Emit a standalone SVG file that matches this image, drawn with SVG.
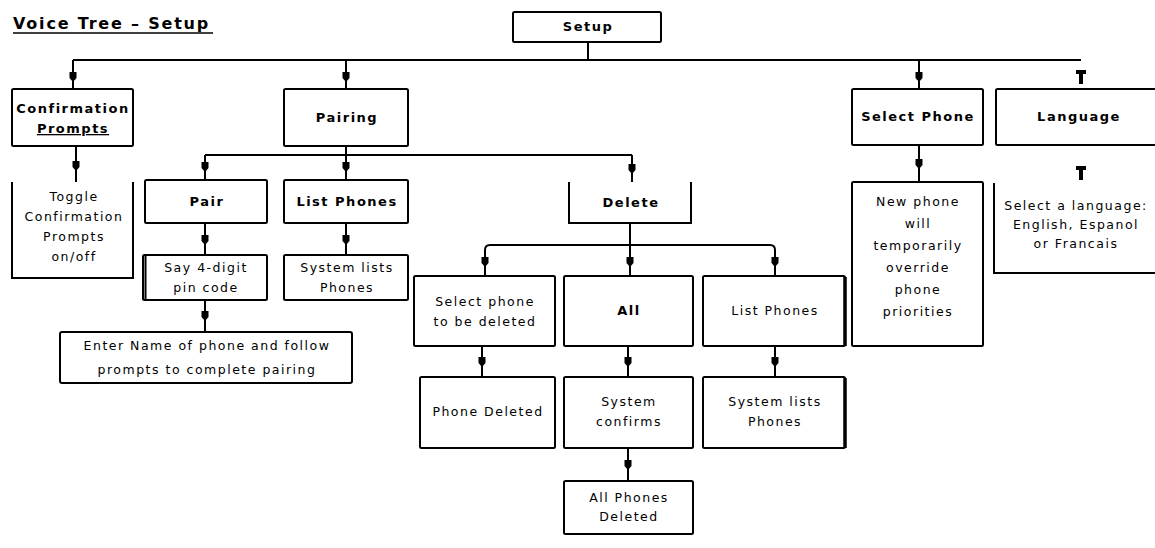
<svg xmlns="http://www.w3.org/2000/svg" width="1155" height="548" viewBox="0 0 1155 548">
<style>
  .box{fill:#fff;stroke:#000;stroke-width:2}
  .open{fill:none;stroke:#000;stroke-width:2}
  .c{fill:none;stroke:#000;stroke-width:2}
  .h{font-family:"DejaVu Sans","Liberation Sans",sans-serif;font-size:13px;font-weight:bold;text-anchor:middle;fill:#000;letter-spacing:1.5px}
  .t{font-family:"DejaVu Sans","Liberation Sans",sans-serif;font-size:12.5px;text-anchor:middle;fill:#000;letter-spacing:1.5px}
  .tee{fill:#000}
</style>
<defs>
  <marker id="ah" viewBox="-5 -4 10 8" refX="0" refY="0" markerWidth="10" markerHeight="8" markerUnits="userSpaceOnUse" orient="auto">
    <path d="M-5,-3.5 L1,-3.5 L5,0 L1,3.5 L-5,3.5 z" fill="#000"/>
  </marker>
</defs>
<rect width="1155" height="548" fill="#fff"/>

<g id="title">
  <text x="13" y="29" font-family="DejaVu Sans, Liberation Sans, sans-serif" font-size="16" font-weight="bold" letter-spacing="1.8">Voice Tree – Setup</text>
  <line x1="13" y1="33" x2="213" y2="33" stroke="#000" stroke-width="1.5"/>
</g>

<g id="connectors">
  <path class="c" d="M588,42 V60"/>
  <path class="c" d="M73,60 H1081"/>
  <path class="c" marker-mid="url(#ah)" d="M73,60 L73,77 L73,89"/>
  <path class="c" marker-mid="url(#ah)" d="M346,60 L346,77 L346,89"/>
  <path class="c" marker-mid="url(#ah)" d="M919,60 L919,77 L919,89"/>
  <path class="tee" d="M1076,70 H1086 V74 H1083 V84 H1079 V74 H1076 z"/>
  <path class="c" marker-mid="url(#ah)" d="M76,146 L76,166 L76,182"/>
  <path class="c" d="M346,146 V155"/>
  <path class="c" d="M205,155 H632"/>
  <path class="c" marker-mid="url(#ah)" d="M205,155 L205,167 L205,180"/>
  <path class="c" marker-mid="url(#ah)" d="M346,155 L346,167 L346,180"/>
  <path class="c" marker-mid="url(#ah)" d="M632,155 L632,169 L632,182"/>
  <path class="c" marker-mid="url(#ah)" d="M205,223 L205,240 L205,255"/>
  <path class="c" marker-mid="url(#ah)" d="M346,223 L346,240 L346,255"/>
  <path class="c" marker-mid="url(#ah)" d="M205,300 L205,316 L205,332"/>
  <path class="c" d="M630,223 V245"/>
  <path class="c" d="M485,250 Q485,245 490,245 H770 Q775,245 775,250"/>
  <path class="c" marker-mid="url(#ah)" d="M485,250 L485,262 L485,276"/>
  <path class="c" marker-mid="url(#ah)" d="M630,245 L630,262 L630,276"/>
  <path class="c" marker-mid="url(#ah)" d="M775,250 L775,262 L775,276"/>
  <path class="c" marker-mid="url(#ah)" d="M482,346 L482,362 L482,377"/>
  <path class="c" marker-mid="url(#ah)" d="M628,346 L628,362 L628,377"/>
  <path class="c" marker-mid="url(#ah)" d="M775,346 L775,362 L775,377"/>
  <path class="c" marker-mid="url(#ah)" d="M628,448 L628,465 L628,481"/>
  <path class="c" marker-mid="url(#ah)" d="M919,145 L919,164 L919,182"/>
  <path class="tee" d="M1076,166 H1086 V170 H1083 V180 H1079 V170 H1076 z"/>
</g>

<g id="setup">
  <rect class="box" x="513" y="12" width="148" height="30" rx="1.5"/>
  <text class="h" x="588" y="31">Setup</text>
</g>
<g id="confirmation-prompts">
  <rect class="box" x="12" y="89" width="121" height="57" rx="1.5"/>
  <text class="h" x="73" y="113">Confirmation</text>
  <text class="h" x="73" y="133" text-decoration="underline">Prompts</text>
</g>
<g id="pairing">
  <rect class="box" x="284" y="89" width="124" height="57" rx="1.5"/>
  <text class="h" x="347" y="122">Pairing</text>
</g>
<g id="select-phone">
  <rect class="box" x="852" y="89" width="131" height="56" rx="1.5"/>
  <text class="h" x="918" y="121">Select Phone</text>
</g>
<g id="language">
  <rect class="box" x="996" y="89" width="175" height="56" rx="1.5"/>
  <text class="h" x="1079" y="121">Language</text>
</g>
<g id="toggle">
  <path class="open" d="M12,182 V278 H133 V182"/>
  <text class="t" x="74" y="201">Toggle</text>
  <text class="t" x="74" y="221">Confirmation</text>
  <text class="t" x="74" y="241">Prompts</text>
  <text class="t" x="74" y="261">on/off</text>
</g>
<g id="pair">
  <rect class="box" x="145" y="180" width="122" height="43" rx="1.5"/>
  <text class="h" x="207" y="206">Pair</text>
</g>
<g id="list-phones-1">
  <rect class="box" x="284" y="180" width="124" height="43" rx="1.5"/>
  <text class="h" x="347" y="206">List Phones</text>
</g>
<g id="say-pin">
  <rect class="box" x="143" y="255" width="124" height="45" rx="1.5"/>
  <line x1="145.5" y1="256" x2="145.5" y2="299" stroke="#000" stroke-width="2"/>
  <text class="t" x="206" y="272">Say 4-digit</text>
  <text class="t" x="206" y="292">pin code</text>
</g>
<g id="system-lists-1">
  <rect class="box" x="284" y="255" width="124" height="45" rx="1.5"/>
  <text class="t" x="347" y="272">System lists</text>
  <text class="t" x="347" y="292">Phones</text>
</g>
<g id="enter-name">
  <rect class="box" x="60" y="332" width="292" height="51" rx="2"/>
  <text class="t" x="207" y="350">Enter Name of phone and follow</text>
  <text class="t" x="207" y="374">prompts to complete pairing</text>
</g>
<g id="delete">
  <path class="open" d="M569,182 V223 H691 V182"/>
  <text class="h" x="631" y="207">Delete</text>
</g>
<g id="select-delete">
  <rect class="box" x="414" y="276" width="141" height="70" rx="1.5"/>
  <text class="t" x="485" y="306">Select phone</text>
  <text class="t" x="485" y="326">to be deleted</text>
</g>
<g id="all">
  <rect class="box" x="564" y="276" width="129" height="70" rx="1.5"/>
  <text class="h" x="629" y="315">All</text>
</g>
<g id="list-phones-2">
  <rect class="box" x="703" y="276" width="142" height="70" rx="1.5"/>
  <line x1="845" y1="277" x2="845" y2="346" stroke="#000" stroke-width="3.5"/>
  <text class="t" x="775" y="315">List Phones</text>
</g>
<g id="phone-deleted">
  <rect class="box" x="420" y="377" width="135" height="71" rx="1.5"/>
  <text class="t" x="488" y="416">Phone Deleted</text>
</g>
<g id="system-confirms">
  <rect class="box" x="564" y="377" width="129" height="71" rx="1.5"/>
  <text class="t" x="629" y="406">System</text>
  <text class="t" x="629" y="426">confirms</text>
</g>
<g id="system-lists-2">
  <rect class="box" x="703" y="377" width="142" height="71" rx="1.5"/>
  <line x1="845" y1="378" x2="845" y2="448" stroke="#000" stroke-width="3.5"/>
  <text class="t" x="775" y="406">System lists</text>
  <text class="t" x="775" y="426">Phones</text>
</g>
<g id="all-phones-deleted">
  <rect class="box" x="564" y="481" width="129" height="53" rx="1.5"/>
  <text class="t" x="629" y="502">All Phones</text>
  <text class="t" x="629" y="521">Deleted</text>
</g>
<g id="new-phone">
  <rect class="box" x="852" y="182" width="131" height="164" rx="1.5"/>
  <text class="t" x="918" y="206">New phone</text>
  <text class="t" x="918" y="228">will</text>
  <text class="t" x="918" y="250">temporarily</text>
  <text class="t" x="918" y="272">override</text>
  <text class="t" x="918" y="294">phone</text>
  <text class="t" x="918" y="316">priorities</text>
</g>
<g id="select-language">
  <path class="open" d="M994,183 V273 H1160"/>
  <text class="t" x="1076" y="210">Select a language:</text>
  <text class="t" x="1076" y="229">English, Espanol</text>
  <text class="t" x="1076" y="248">or Francais</text>
</g>
</svg>
